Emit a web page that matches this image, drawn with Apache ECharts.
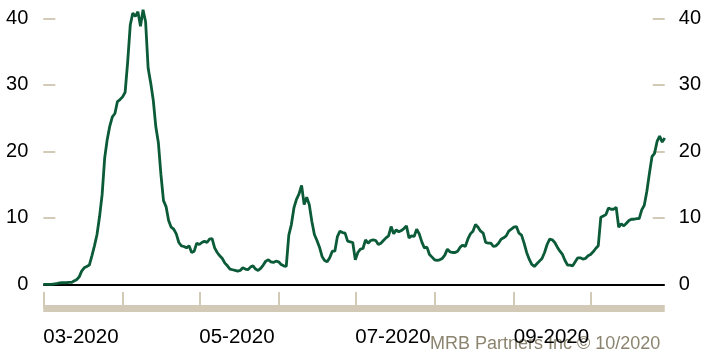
<!DOCTYPE html>
<html><head><meta charset="utf-8">
<script src="https://cdn.jsdelivr.net/npm/echarts@6/dist/echarts.min.js"></script>
<style>html,body{margin:0;padding:0;background:#fff}#c{width:704px;height:356px}</style>
</head><body><div id="c"></div>
<script>
// Daily series starting 2020-03-01
const startDate = '2020-03-01';
const values = [
  0, 0, 0, 0, 0.05, 0.1, 0.2, 0.25, 0.25, 0.25,
  0.3, 0.3, 0.5, 0.7, 1.1, 2.0, 2.5, 2.7, 2.9, 4.3,
  5.8, 7.5, 10.2, 13.5, 19.0, 21.8, 23.8, 25.2, 25.7, 27.5,
  27.8, 28.2, 28.9, 33.5, 39.0, 40.8, 40.3, 41.0, 38.8, 41.3,
  39.5, 32.5, 30.3, 27.7, 23.7, 21.3, 16.5, 12.6, 11.7, 9.6,
  8.6, 8.3, 7.6, 6.3, 5.8, 5.7, 5.5, 5.8, 4.8, 5.0,
  6.2, 6.0, 6.3, 6.5, 6.3, 6.8, 6.9, 5.5, 4.8, 4.3,
  3.9, 3.2, 2.8, 2.3, 2.2, 2.1, 2.0, 2.1, 2.5, 2.3,
  2.2, 2.6, 2.8, 2.3, 2.1, 2.4, 2.9, 3.5, 3.7, 3.4,
  3.3, 3.5, 3.4, 3.0, 2.8, 2.7, 7.4, 9.0, 11.5, 12.8,
  13.6, 14.9, 12.0, 13.1, 12.0, 9.5, 7.5, 6.6, 5.6, 4.2,
  3.6, 3.4, 4.0, 5.0, 5.0, 7.2, 8.0, 7.8, 7.7, 6.5,
  6.4, 6.3, 3.7, 4.8, 5.3, 5.4, 6.7, 6.2, 6.6, 6.7,
  6.6, 6.0, 6.2, 6.6, 7.0, 7.3, 8.7, 7.6, 8.2, 7.9,
  8.1, 8.4, 8.8, 7.0, 7.3, 7.2, 8.3, 7.6, 6.4, 5.5,
  5.6, 4.5, 4.1, 3.7, 3.6, 3.7, 3.9, 4.4, 5.3, 4.9,
  4.8, 4.8, 5.0, 5.6, 5.9, 5.7, 6.8, 7.6, 8.0, 9.0,
  8.6, 8.0, 7.7, 6.3, 6.2, 6.2, 5.7, 5.8, 6.2, 6.8,
  7.0, 7.3, 8.0, 8.3, 8.6, 8.7, 7.7, 7.4, 6.2, 4.8,
  3.8, 3.0, 2.7, 3.1, 3.5, 3.9, 4.8, 6.0, 6.8, 6.7,
  6.3, 5.6, 5.0, 4.5, 3.6, 2.9, 2.9, 2.8, 3.4, 4.0,
  4.0, 3.8, 3.9, 4.3, 4.5, 4.9, 5.4, 5.8, 10.1, 10.3,
  10.5, 11.5, 11.3, 11.3, 11.6, 8.6, 9.1, 8.8, 9.2, 9.6,
  9.8, 9.8, 9.9, 9.9, 11.2, 11.9, 14.0, 16.7, 19.2, 19.7,
  21.5, 22.3, 21.4, 22.0
];
const xLabelDates = ['2020-03-01', '2020-05-01', '2020-07-01', '2020-09-01'];
const yTickValues = [0, 10, 20, 30, 40];
const sourceNote = 'MRB Partners Inc © 10/2020';

const dates = [];
const t0 = Date.parse(startDate + 'T00:00:00Z');
for (let i = 0; i < values.length; i++) {
  dates.push(new Date(t0 + i * 86400000).toISOString().slice(0, 10));
}

const GREEN = '#0b5a38', BEIGE = '#d2cab6';
const FONT = '"Liberation Sans", Arial, sans-serif';

function yAxis(pos, margin) {
  return {
    type: 'value', position: pos,
    min: yTickValues[0], max: yTickValues[yTickValues.length - 1], interval: 10,
    splitLine: { show: false },
    axisLine: { show: false },
    axisTick: { show: true, inside: true, length: 12, lineStyle: { color: BEIGE, width: 2 } },
    axisLabel: { fontSize: 20, color: '#000', fontFamily: FONT, margin: margin },
    z: 0
  };
}

const chart = echarts.init(document.getElementById('c'), null, { renderer: 'canvas' });
chart.setOption({
  animation: false,
  grid: { left: 43.3, right: 39.1, top: 18.4, bottom: 71.6 },
  xAxis: [
    {
      type: 'category', data: dates, boundaryGap: false, z: 1,
      axisLine: { onZero: false, lineStyle: { color: '#000', width: 2, cap: 'butt' } },
      axisTick: { show: false }, axisLabel: { show: false }
    },
    {
      type: 'category', data: dates, boundaryGap: false, position: 'bottom', offset: 24.1, z: 3,
      axisLine: { onZero: false, lineStyle: { color: BEIGE, width: 7, cap: 'butt' } },
      axisTick: { show: true, inside: true, length: 16.5,
        interval: function (i, v) { return v.slice(8, 10) === '01'; },
        lineStyle: { color: BEIGE, width: 2 } },
      axisLabel: {
        interval: function (i, v) { return xLabelDates.indexOf(v) >= 0; },
        formatter: function (v) { return v.slice(5, 7) + '-' + v.slice(0, 4); },
        align: 'left', fontSize: 20.5, color: '#000', fontFamily: FONT, margin: 18
      }
    }
  ],
  yAxis: [yAxis('left', 15), yAxis('right', 14)],
  series: [{
    type: 'line', data: values, xAxisIndex: 0, yAxisIndex: 0,
    symbol: 'none', showSymbol: false, clip: false, z: 2,
    lineStyle: { color: GREEN, width: 2.8 }
  }],
  graphic: [{
    type: 'text', left: 430, top: 335, z: 0,
    style: { text: sourceNote, fontSize: 18, fontFamily: FONT, fill: '#8b846f' }
  }]
});
</script>
</body></html>
